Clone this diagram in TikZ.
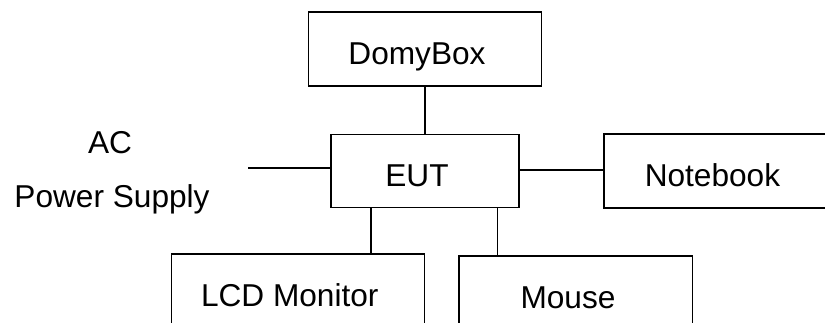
\documentclass[tikz,border=0pt]{standalone}
\usepackage{fontspec}
\setmainfont{Liberation Sans}
\usepackage{tikz}
\usetikzlibrary{positioning}
\tikzset{
  unit/.style={draw, line width=0.85pt, inner sep=0pt, minimum width=4.66cm,
    minimum height=1.48cm, text height=17.4pt, text depth=0pt,
    execute at end node=\hspace*{0.32cm}},
  caption/.style={inner sep=0pt, text height=12.9pt, text depth=0pt},
  wire/.style={line width=0.85pt}
}

\begin{document}
\begin{tikzpicture}[x=0.02cm, y=-0.02cm, font=\fontsize{18}{22}\selectfont]
    \clip (0,0) rectangle (825,323);

      \node [unit, minimum width=3.76cm, minimum height=1.47cm] (eut) at (425,171) {EUT};
      \node [unit, above=0.94cm of eut] (domybox) {DomyBox};
      \node [unit, right=1.67cm of eut] (notebook) {Notebook};
      \node [unit, minimum width=5.06cm, below left=0.9cm and 0cm of eut.south] (lcd) {LCD Monitor};
      \node [unit, minimum width=4.67cm, below right=0.94cm and 0.67cm of eut.south] (mouse) {Mouse};

      \node [caption] (ac) at (110,142) {AC};
      \node [caption] (power) at (112,196) {Power Supply};

      \coordinate (acend) at (248,168);
      \coordinate (lcdtap) at ([xshift=-1.08cm]eut.south);
      \coordinate (mousetap) at ([xshift=1.45cm]eut.south);

      \draw [wire] (domybox) -- (eut);
      \draw [wire] (acend) -- (acend -| eut.west);
      \draw [wire] ([yshift=0.02cm]eut.east) -- ([yshift=0.02cm]notebook.west);
      \draw [wire] (lcdtap) -- (lcdtap |- lcd.north);
      \draw [wire] (mousetap) -- (mousetap |- mouse.north);
\end{tikzpicture}
\end{document}
